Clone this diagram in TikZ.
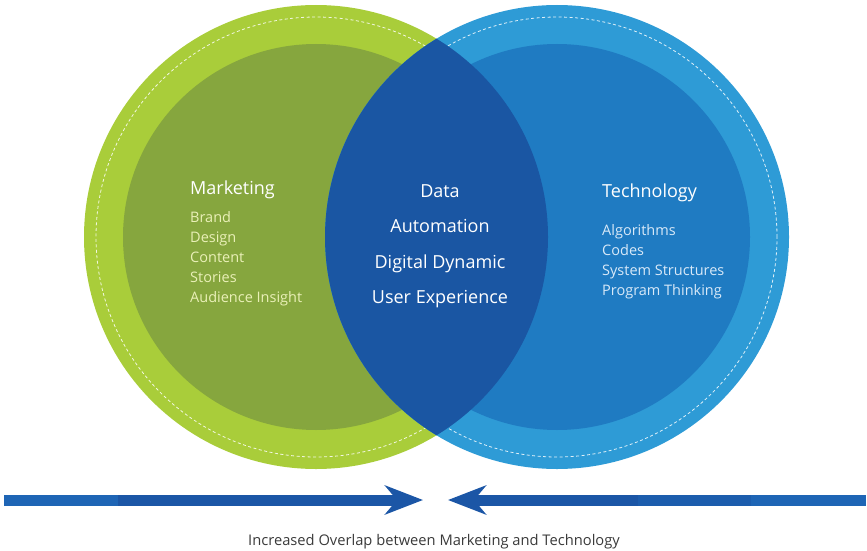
\documentclass[tikz,border=0pt]{standalone}
\usepackage{fontspec}
\setmainfont{Open Sans}
\usetikzlibrary{arrows.meta}

\definecolor{mkouter}{HTML}{A9CD3A}
\definecolor{mkinner}{HTML}{86A63E}
\definecolor{tcouter}{HTML}{2E9BD6}
\definecolor{tcinner}{HTML}{1F7BC2}
\definecolor{lensblue}{HTML}{1A56A3}
\definecolor{mktext}{HTML}{EAF0B8}
\definecolor{tctext}{HTML}{D8E9F8}
\definecolor{barlight}{HTML}{1E65B5}
\definecolor{barmid}{HTML}{1C5DAD}
\definecolor{bardark}{HTML}{1B56A6}
\definecolor{captext}{HTML}{3A3A3A}

\tikzset{
  ring/.style={white, line width=0.8pt, dash pattern=on 3pt off 2.5pt, opacity=0.85},
  heading/.style={anchor=base west, font=\fontsize{18}{20}\selectfont, inner sep=0pt},
  item/.style={anchor=base west, font=\fontsize{14.5}{16}\selectfont, inner sep=0pt},
  shared/.style={anchor=base, white, font=\fontsize{18}{20}\selectfont, inner sep=0pt},
  bar/.style={line width=11pt}
}

\begin{document}
\begin{tikzpicture}[x=1pt,y=-1pt]
\useasboundingbox (0,0) rectangle (867,551);

% circles
\coordinate (mk) at (316,237);
\coordinate (tc) at (557,237);
\fill[mkouter] (mk) circle[radius=232pt];
\fill[mkinner] (mk) circle[radius=193pt];
\draw[ring] (mk) circle[radius=220pt];
\fill[tcouter] (tc) circle[radius=232pt];
\fill[tcinner] (tc) circle[radius=193pt];
\draw[ring] (tc) circle[radius=220pt];
\begin{scope}
  \clip (mk) circle[radius=232pt];
  \fill[lensblue] (tc) circle[radius=232pt];
\end{scope}

% left texts
\node[heading, white] (marketing) at (190,194) {Marketing};
\foreach \Word [count=\i] in {Brand, Design, Content, Stories, Audience Insight}{
  \node[item, mktext] (mk\i) at (190,203+19.8*\i) {\Word};
}

% shared texts
\foreach \Word [count=\i] in {Data, Automation, Digital Dynamic, User Experience}{
  \node[shared] (sh\i) at (440,161.5+35.5*\i) {\Word};
}

% right texts
\node[heading, white] (technology) at (602,197) {Technology};
\foreach \Word [count=\i] in {Algorithms, Codes, System Structures, Program Thinking}{
  \node[item, tctext] (tc\i) at (602,215+20*\i) {\Word};
}

% arrows
\coordinate (lstart) at (4,500);
\coordinate (lsplit) at (118,500);
\coordinate (ltip) at (423,500);
\coordinate (rstart) at (866,500);
\coordinate (rsplit) at (751,500);
\coordinate (rmid) at (638,500);
\coordinate (rtip) at (448,500);
\draw[bar, barlight] (lstart) -- (lsplit);
\draw[bar, bardark, -{Stealth[length=38pt,width=29pt,inset=12pt]}] (lsplit) -- (ltip);
\draw[bar, barlight] (rstart) -- (rsplit);
\draw[bar, barmid] (rsplit) -- (rmid);
\draw[bar, bardark, -{Stealth[length=38pt,width=29pt,inset=12pt]}] (rmid) -- (rtip);

\node[anchor=base, captext, font=\fontsize{14.7}{16}\selectfont, inner sep=0pt] (caption) at (434,545)
  {Increased Overlap between Marketing and Technology};
\end{tikzpicture}
\end{document}
